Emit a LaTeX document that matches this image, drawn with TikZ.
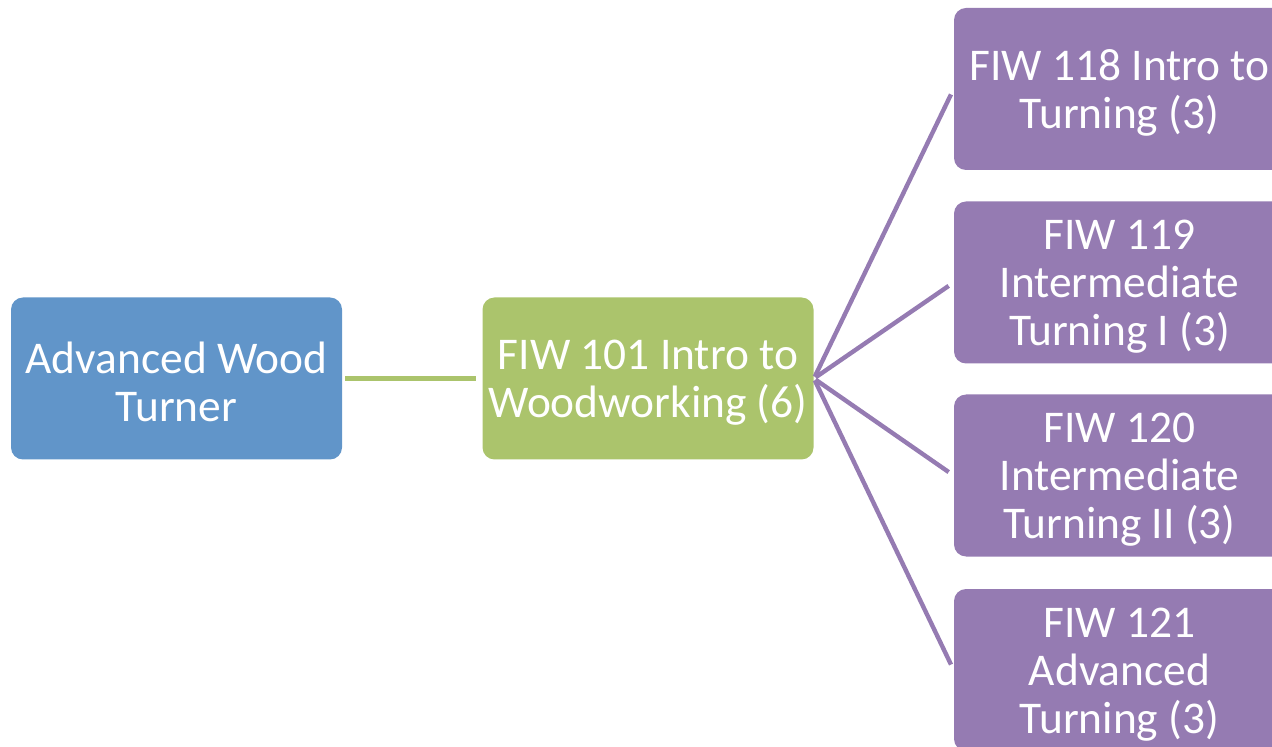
\documentclass[tikz,border=0pt]{standalone}
\usepackage{fontspec}
\setmainfont{Carlito}
\usepackage{tikz}
\definecolor{woodblue}{HTML}{6195C9}
\definecolor{woodgreen}{HTML}{ABC46C}
\definecolor{woodpurple}{HTML}{957BB2}
\newcommand*{\topstrut}{\rule{0pt}{19pt}}
\tikzset{
    course/.style={rounded corners=6pt, inner sep=0pt, minimum width=165.5pt,
        minimum height=81pt, align=center, text=white,
        font=\fontsize{22.7}{24}\selectfont},
    link/.style={line width=2.2pt, color=woodpurple, shorten <=1pt, shorten >=3pt},
}

\begin{document}
\begin{tikzpicture}[x=0.5pt, y=-0.5pt]
    \clip(0, 0) rectangle (1272, 747);
    \node[course, fill=woodblue](goal)at(176.5, 378.5){\topstrut Advanced Wood\\Turner};
    \node[course, fill=woodgreen](fiw101)at(648, 378.5){\topstrut FIW 101 Intro to\\Woodworking (6)};
    \node[course, fill=woodpurple](fiw118)at(1119.5, 89){\topstrut FIW 118 Intro to\\Turning (3)};
    \node[course, fill=woodpurple](fiw119)at(1119.5, 282.5){\topstrut FIW 119\\Intermediate\\Turning I (3)};
    \node[course, fill=woodpurple](fiw120)at(1119.5, 475.5){\topstrut FIW 120\\Intermediate\\Turning II (3)};
    \node[course, fill=woodpurple](fiw121)at(1119.5, 670){\topstrut FIW 121\\Advanced\\Turning (3)};
    \draw[line width=2.5pt, woodgreen, shorten <=1.5pt, shorten >=3pt](goal)--(fiw101);
    \foreach \n in {fiw118, fiw119, fiw120, fiw121}
        \draw[link](fiw101.east)--(\n.west);
\end{tikzpicture}
\end{document}
